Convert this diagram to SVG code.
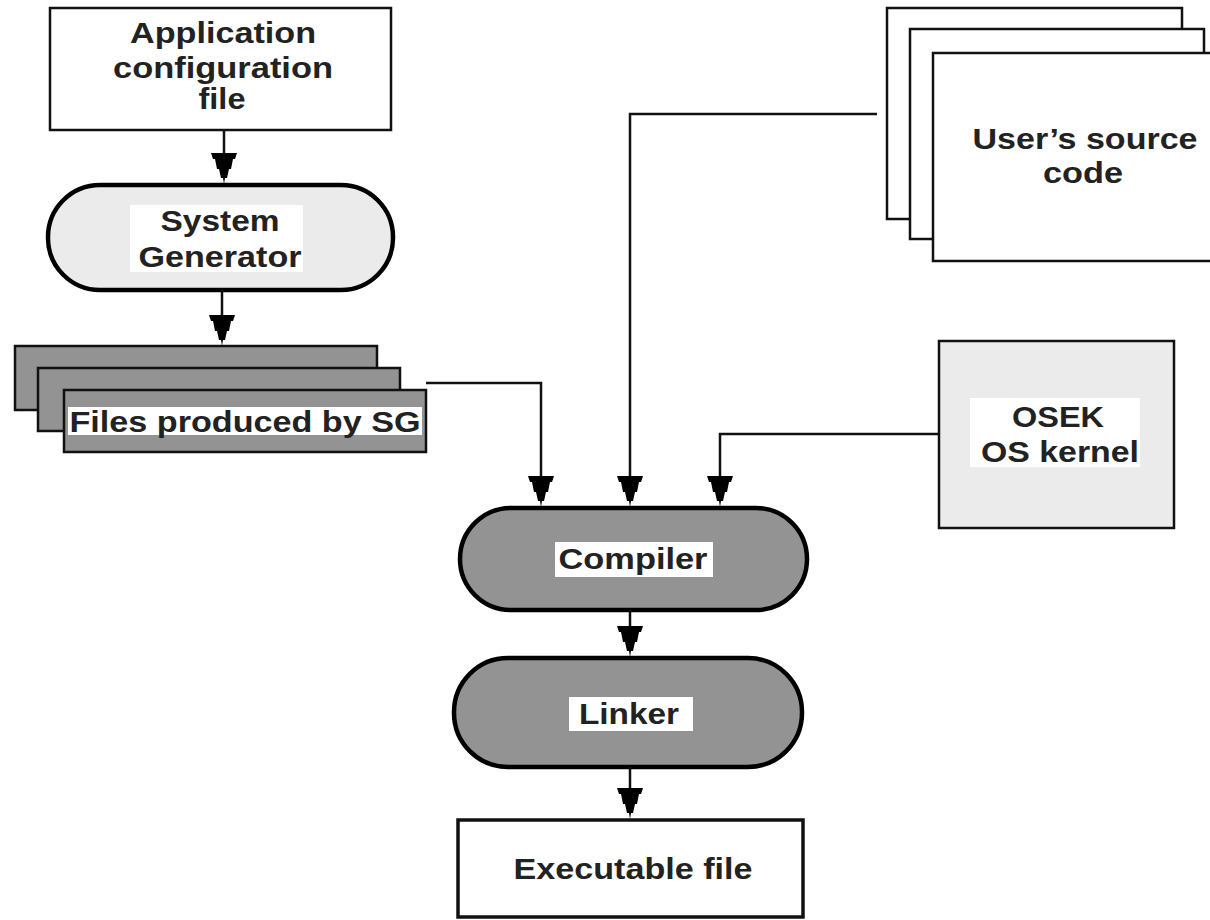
<svg xmlns="http://www.w3.org/2000/svg" xmlns:xlink="http://www.w3.org/1999/xlink" width="1210" height="920" viewBox="0 0 1210 920">
<style>
.box{stroke:#111;stroke-width:2.5}
.pill{stroke:#000;stroke-width:4.5}
.lbl{fill:#fff}
.t{font-family:"Liberation Sans",Arial,sans-serif;font-weight:bold;font-size:29px;fill:#222;text-anchor:middle}
.con{fill:none;stroke:#111;stroke-width:2.5}
.dark{fill:#939393}
.light{fill:#ebebeb}
.white{fill:#fff}
</style>
<defs>
<path id="ah" d="M-13,-31 H13 L11,-25 L9,-25 L7,-15 L5,-15 L3,-6 L1,-6 L0,0 L-1,-6 L-3,-6 L-5,-15 L-7,-15 L-9,-25 L-11,-25 Z" fill="#000"/>
</defs>
<rect width="1210" height="920" fill="#fff"/>

<g id="app-config">
<rect class="box white" x="50" y="8" width="341" height="122"/>
<text class="t" x="223" y="43" textLength="186" lengthAdjust="spacingAndGlyphs">Application</text>
<text class="t" x="223" y="78" textLength="220" lengthAdjust="spacingAndGlyphs">configuration</text>
<text class="t" x="222" y="109" textLength="47" lengthAdjust="spacingAndGlyphs">file</text>
</g>

<g id="system-generator">
<rect class="pill light" x="48" y="185" width="345" height="105" rx="52" ry="52"/>
<rect class="lbl" x="130" y="205" width="173" height="67"/>
<text class="t" x="220" y="231" textLength="119" lengthAdjust="spacingAndGlyphs">System</text>
<text class="t" x="220" y="267" textLength="163" lengthAdjust="spacingAndGlyphs">Generator</text>
</g>

<g id="files-sg">
<rect class="box dark" x="15" y="346" width="362" height="64"/>
<rect class="box dark" x="38" y="368" width="362" height="63"/>
<rect class="box dark" x="64" y="390" width="362" height="62"/>
<rect class="lbl" x="68" y="407" width="354" height="28"/>
<text class="t" x="245" y="432" textLength="351" lengthAdjust="spacingAndGlyphs">Files produced by SG</text>
</g>

<g id="user-source">
<rect class="box white" x="887" y="8" width="295" height="211"/>
<rect class="box white" x="910" y="29" width="294" height="210"/>
<rect class="box white" x="933" y="53" width="290" height="208"/>
<text class="t" x="1085" y="149" textLength="225" lengthAdjust="spacingAndGlyphs">User’s source</text>
<text class="t" x="1083" y="183" textLength="80" lengthAdjust="spacingAndGlyphs">code</text>
</g>

<g id="osek">
<rect class="box light" x="939" y="341" width="235" height="187"/>
<rect class="lbl" x="970" y="398" width="170" height="69"/>
<text class="t" x="1058" y="427" textLength="92" lengthAdjust="spacingAndGlyphs">OSEK</text>
<text class="t" x="1060" y="462" textLength="158" lengthAdjust="spacingAndGlyphs">OS kernel</text>
</g>

<g id="compiler">
<rect class="pill dark" x="460" y="508" width="347" height="102" rx="51" ry="51"/>
<rect class="lbl" x="555" y="542" width="158" height="35"/>
<text class="t" x="633" y="569" textLength="149" lengthAdjust="spacingAndGlyphs">Compiler</text>
</g>

<g id="linker">
<rect class="pill dark" x="454" y="658" width="348" height="109" rx="54" ry="54"/>
<rect class="lbl" x="569" y="697" width="124" height="34"/>
<text class="t" x="629" y="724" textLength="100" lengthAdjust="spacingAndGlyphs">Linker</text>
</g>

<g id="executable">
<rect class="box white" x="458" y="820" width="345" height="97" style="stroke-width:3.5"/>
<text class="t" x="633" y="879" textLength="239" lengthAdjust="spacingAndGlyphs">Executable file</text>
</g>

<g id="connectors">
<path class="con" d="M224,130 V160"/>
<use xlink:href="#ah" x="224" y="184"/>
<path class="con" d="M222,290 V320"/>
<use xlink:href="#ah" x="222" y="346"/>
<path class="con" d="M426,383 H541 V480"/>
<use xlink:href="#ah" x="541" y="507"/>
<path class="con" d="M877,114 H630 V480"/>
<use xlink:href="#ah" x="630" y="507"/>
<path class="con" d="M939,434 H720 V480"/>
<use xlink:href="#ah" x="720" y="507"/>
<path class="con" d="M630,610 V632"/>
<use xlink:href="#ah" x="630" y="657"/>
<path class="con" d="M630,767 V795"/>
<use xlink:href="#ah" x="630" y="819"/>
</g>
</svg>
